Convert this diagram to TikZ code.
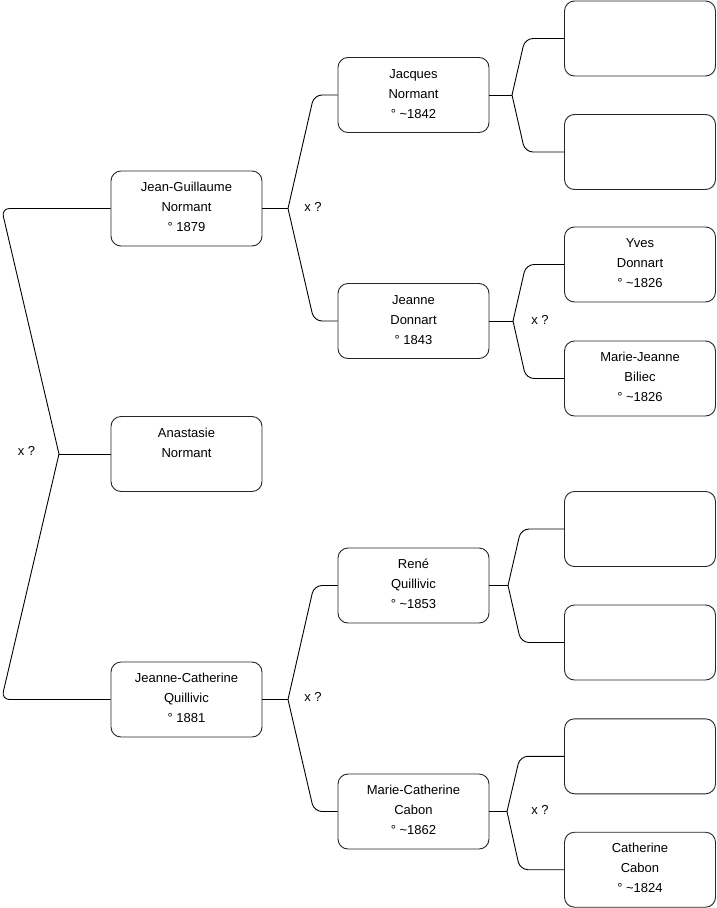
\documentclass[tikz,border=0pt]{standalone}
\usepackage{fontspec}
\setmainfont{Liberation Sans}
\begin{document}
\begin{tikzpicture}[x=1pt,y=-1pt,
 person/.style={draw=black!85, line width=0.9pt, rounded corners=10pt, minimum width=151pt, minimum height=75pt, inner sep=0pt, align=center, text height=50pt, text depth=4pt, font=\fontsize{13}{20}\selectfont},
 conn/.style={draw=black, line width=0.9pt, rounded corners=8pt},
 lab/.style={font=\fontsize{13}{16}\selectfont, inner sep=0pt}]
\useasboundingbox[fill=white] (0,0) rectangle (716,908);
% column 1
\node[person] (jg)  at (186.5,208.5) {Jean-Guillaume\\Normant\\° 1879};
\node[person] (an)  at (186.5,454)   {Anastasie\\Normant\\\strut};
\node[person] (jcq) at (186.5,699.5) {Jeanne-Catherine\\Quillivic\\° 1881};
% column 2
\node[person] (jac) at (413.5,95)    {Jacques\\Normant\\° \textasciitilde1842};
\node[person] (jd)  at (413.5,321)   {Jeanne\\Donnart\\° 1843};
\node[person] (rq)  at (413.5,585.5) {René\\Quillivic\\° \textasciitilde1853};
\node[person] (mcc) at (413.5,811.5) {Marie-Catherine\\Cabon\\° \textasciitilde1862};
% column 3
\node[person] (e1)  at (640,38.5)  {};
\node[person] (e2)  at (640,152)   {};
\node[person] (yd)  at (640,264.5) {Yves\\Donnart\\° \textasciitilde1826};
\node[person] (mjb) at (640,378.5) {Marie-Jeanne\\Biliec\\° \textasciitilde1826};
\node[person] (e3)  at (640,529)   {};
\node[person] (e4)  at (640,642.5) {};
\node[person] (e5)  at (640,756.3) {};
\node[person] (cc)  at (640,869.7) {Catherine\\Cabon\\° \textasciitilde1824};
% junctions
\coordinate (j0)  at (59,454);
\coordinate (j1a) at (288,208.5);
\coordinate (j1b) at (288,699.5);
\coordinate (j2a) at (512,95);
\coordinate (j2b) at (513,321);
\coordinate (j2c) at (508,585.5);
\coordinate (j2d) at (507,811.5);
% column 0 connectors
\draw[conn] (jg.west) -- (1.5,208.5) -- (j0);
\draw[conn] (j0) -- (an.west);
\draw[conn] (j0) -- (1.5,699.5) -- (jcq.west);
% column 1 connectors
\draw[conn] (jg.east) -- (j1a);
\draw[conn] (j1a) -- (314,95) -- (jac.west);
\draw[conn] (j1a) -- (314,321) -- (jd.west);
\draw[conn] (jcq.east) -- (j1b);
\draw[conn] (j1b) -- (314,585.5) -- (rq.west);
\draw[conn] (j1b) -- (314,811.5) -- (mcc.west);
% column 2 connectors
\draw[conn] (jac.east) -- (j2a);
\draw[conn] (j2a) -- (525,38.5) -- (e1.west);
\draw[conn] (j2a) -- (525,152) -- (e2.west);
\draw[conn] (jd.east) -- (j2b);
\draw[conn] (j2b) -- (526,264.5) -- (yd.west);
\draw[conn] (j2b) -- (526,378.5) -- (mjb.west);
\draw[conn] (rq.east) -- (j2c);
\draw[conn] (j2c) -- (521,529) -- (e3.west);
\draw[conn] (j2c) -- (521,642.5) -- (e4.west);
\draw[conn] (mcc.east) -- (j2d);
\draw[conn] (j2d) -- (520,756.3) -- (e5.west);
\draw[conn] (j2d) -- (520,869.7) -- (cc.west);
% labels
\node[lab] (x0) at (26.5,451) {x ?};
\node[lab] (x1) at (313,207) {x ?};
\node[lab] (x2) at (313,697) {x ?};
\node[lab] (x3) at (540,320) {x ?};
\node[lab] (x4) at (540,810) {x ?};
\end{tikzpicture}
\end{document}
